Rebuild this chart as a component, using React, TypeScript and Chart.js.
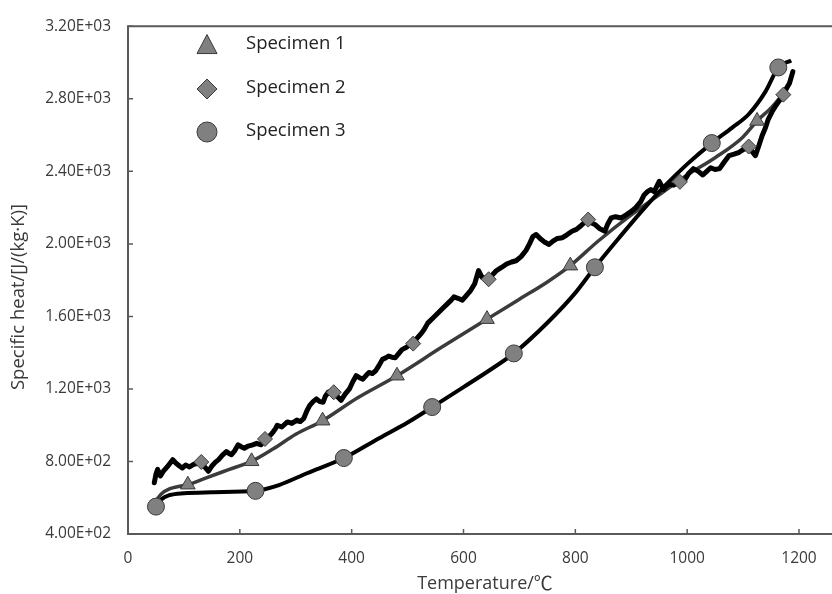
import React, { useEffect, useRef } from 'react';
import { Chart, registerables } from 'chart.js';

Chart.register(...registerables);

// ---------- data ----------
const seriesNames = ['Specimen 1', 'Specimen 2', 'Specimen 3'];

const xTicks = [0, 200, 400, 600, 800, 1000, 1200];
const xTickLabels = ['0', '200', '400', '600', '800', '1000', '1200'];
const yTicks = [400, 800, 1200, 1600, 2000, 2400, 2800, 3200];
const yTickLabels = ['4.00E+02', '8.00E+02', '1.20E+03', '1.60E+03', '2.00E+03', '2.40E+03', '2.80E+03', '3.20E+03'];

// Specimen 1 (smooth curve, triangles)
const s1T = [50, 60, 75, 90, 107, 140, 180, 221, 260, 300, 348, 410, 481, 560, 642, 700, 750, 791, 841, 900, 950, 1000, 1050, 1100, 1125, 1150, 1180];
const s1V = [583, 622, 650, 662, 672, 710, 755, 801, 870, 950, 1025, 1150, 1273, 1428, 1585, 1695, 1790, 1880, 2016, 2160, 2270, 2380, 2475, 2590, 2678, 2750, 2860];
const s1MarkT = [107, 221, 348, 481, 642, 791, 1125];
const s1MarkV = [672, 801, 1025, 1273, 1585, 1880, 2678];

// Specimen 2 (noisy curve, diamonds)
const s2T = [47, 50, 53, 58, 63, 70, 80, 86, 92, 97, 103, 110, 118, 125, 131, 137, 144, 150, 156, 162, 169, 176, 180, 185, 191, 197, 203, 208, 215, 223, 230, 238, 244, 250, 255, 260, 264, 267, 275, 285, 293, 302, 308, 314, 320, 325, 331, 337, 343, 349, 353, 358, 367, 374, 381, 388, 396, 402, 408, 414, 420, 426, 431, 437, 443, 449, 455, 460, 466, 472, 478, 484, 490, 498, 505, 510, 517, 525, 530, 536, 545, 554, 563, 572, 578, 583, 590, 598, 605, 613, 620, 627, 633, 639, 645, 652, 659, 668, 677, 686, 694, 703, 712, 718, 724, 730, 737, 745, 753, 760, 768, 777, 785, 794, 802, 810, 817, 823, 829, 835, 843, 853, 858, 864, 872, 882, 891, 900, 908, 917, 923, 929, 935, 941, 950, 958, 966, 976, 987, 995, 1003, 1011, 1020, 1028, 1034, 1042, 1050, 1058, 1066, 1075, 1084, 1093, 1100, 1110, 1116, 1122, 1128, 1134, 1140, 1145, 1152, 1158, 1165, 1172, 1178, 1183, 1189];
const s2V = [683, 730, 756, 720, 745, 770, 810, 790, 775, 764, 780, 770, 785, 790, 801, 770, 746, 775, 795, 810, 835, 855, 845, 837, 860, 892, 880, 873, 885, 892, 900, 892, 928, 935, 946, 965, 982, 1000, 990, 1018, 1010, 1028, 1020, 1036, 1080, 1109, 1130, 1145, 1130, 1127, 1160, 1182, 1190, 1160, 1137, 1170, 1200, 1240, 1273, 1262, 1254, 1275, 1291, 1285, 1300, 1330, 1363, 1370, 1381, 1375, 1372, 1395, 1417, 1430, 1445, 1454, 1480, 1508, 1530, 1563, 1590, 1617, 1645, 1672, 1690, 1708, 1700, 1690, 1715, 1744, 1780, 1853, 1817, 1810, 1808, 1830, 1853, 1870, 1889, 1900, 1907, 1930, 1965, 2000, 2040, 2052, 2030, 2010, 1997, 2015, 2030, 2034, 2050, 2070, 2080, 2100, 2120, 2134, 2115, 2107, 2085, 2070, 2110, 2143, 2150, 2143, 2160, 2179, 2200, 2233, 2270, 2288, 2300, 2288, 2345, 2300, 2330, 2324, 2342, 2350, 2390, 2415, 2400, 2380, 2397, 2420, 2410, 2415, 2450, 2487, 2495, 2505, 2520, 2533, 2510, 2487, 2540, 2596, 2640, 2687, 2730, 2760, 2790, 2823, 2860, 2886, 2950];
const s2MarkT = [131, 245, 368, 510, 645, 823, 987, 1110, 1172];
const s2MarkV = [797, 924, 1182, 1450, 1805, 2134, 2342, 2537, 2823];

// Specimen 3 (smooth curve, circles)
const s3T = [50, 60, 75, 100, 150, 228, 270, 320, 386, 450, 500, 544, 600, 650, 690, 750, 800, 835, 880, 920, 960, 1000, 1044, 1080, 1110, 1140, 1163, 1186];
const s3V = [551, 592, 615, 625, 630, 638, 670, 735, 819, 930, 1015, 1100, 1210, 1310, 1396, 1565, 1730, 1871, 2040, 2185, 2320, 2440, 2556, 2640, 2715, 2840, 2973, 3012];
const s3MarkT = [50, 228, 386, 544, 690, 835, 1044, 1163];
const s3MarkV = [551, 638, 819, 1100, 1396, 1871, 2556, 2973];

// ---------- helpers ----------
const pts = (t: number[], v: number[]) => t.map((x, i) => ({ x, y: v[i] }));

const MARK_FILL = '#808080';
const MARK_BORDER = '#3a3a3a';
const AXIS_COLOR = '#5a5a5a';
const TEXT_COLOR = '#3a3a3a';
const SANS = '"Open Sans", "Noto Sans", sans-serif';

const framePlugin = {
  id: 'frame',
  beforeDatasetsDraw(chart: any) {
    const { ctx, chartArea, scales } = chart;
    const { left, top, bottom } = chartArea;
    const right = chart.width;
    ctx.save();
    ctx.strokeStyle = AXIS_COLOR;
    ctx.lineWidth = 2;
    ctx.beginPath();
    ctx.moveTo(left, top);
    ctx.lineTo(right, top);
    ctx.moveTo(left, top - 1);
    ctx.lineTo(left, bottom + 1);
    ctx.moveTo(left - 1, bottom);
    ctx.lineTo(right, bottom);
    ctx.stroke();
    ctx.lineWidth = 1.5;
    ctx.beginPath();
    yTicks.forEach((v) => {
      const y = scales.y.getPixelForValue(v);
      ctx.moveTo(left, y);
      ctx.lineTo(left + 5, y);
    });
    xTicks.forEach((v) => {
      if (v === 0) return;
      const x = scales.x.getPixelForValue(v);
      ctx.moveTo(x, bottom);
      ctx.lineTo(x, bottom - 5);
    });
    ctx.stroke();
    ctx.restore();
  },
};

function drawMarker(ctx: CanvasRenderingContext2D, kind: number, x: number, y: number, r: number) {
  ctx.beginPath();
  if (kind === 0) {
    const h = r * 1.9;
    ctx.moveTo(x, y - h * 0.55);
    ctx.lineTo(x + r, y + h * 0.45);
    ctx.lineTo(x - r, y + h * 0.45);
    ctx.closePath();
  } else if (kind === 1) {
    ctx.moveTo(x, y - r);
    ctx.lineTo(x + r, y);
    ctx.lineTo(x, y + r);
    ctx.lineTo(x - r, y);
    ctx.closePath();
  } else {
    ctx.arc(x, y, r, 0, Math.PI * 2);
  }
  ctx.fillStyle = MARK_FILL;
  ctx.fill();
  ctx.strokeStyle = MARK_BORDER;
  ctx.lineWidth = 1;
  ctx.stroke();
}

const annotationPlugin = {
  id: 'annot',
  afterDraw(chart: any) {
    const { ctx } = chart;
    ctx.save();
    // legend
    const legendY = [45, 89, 132];
    ctx.font = `18.5px ${SANS}`;
    ctx.textBaseline = 'middle';
    ctx.textAlign = 'left';
    seriesNames.forEach((name, i) => {
      drawMarker(ctx, i, 207, legendY[i], 10);
      ctx.fillStyle = '#222';
      ctx.fillText(name, 246, legendY[i] - 1);
    });
    // x title
    ctx.fillStyle = TEXT_COLOR;
    ctx.textBaseline = 'alphabetic';
    ctx.font = `18px ${SANS}`;
    const part1 = 'Temperature/';
    const w1 = ctx.measureText(part1).width;
    ctx.font = '19px "Noto Sans CJK SC", "DejaVu Serif", serif';
    const w2 = ctx.measureText('℃').width;
    const startX = 485 - (w1 + w2) / 2;
    ctx.font = `18px ${SANS}`;
    ctx.fillText(part1, startX, 589);
    ctx.font = '19px "Noto Sans CJK SC", "DejaVu Serif", serif';
    ctx.fillText('℃', startX + w1, 590);
    // y title
    ctx.save();
    ctx.translate(24, 297);
    ctx.rotate(-Math.PI / 2);
    ctx.font = `18.5px ${SANS}`;
    ctx.textAlign = 'center';
    ctx.textBaseline = 'alphabetic';
    ctx.fillText('Specific heat/[J/(kg·K)]', 0, 0);
    ctx.restore();
    ctx.restore();
  },
};

export default function App() {
  const ref = useRef<HTMLCanvasElement | null>(null);

  useEffect(() => {
    if (!ref.current) return;
    const chart = new Chart(ref.current, {
      type: 'line',
      data: {
        datasets: [
          {
            label: seriesNames[0] + ' markers',
            data: pts(s1MarkT, s1MarkV),
            showLine: false,
            pointStyle: 'triangle',
            pointRadius: 8.5,
            backgroundColor: MARK_FILL,
            borderColor: MARK_BORDER,
            borderWidth: 1,
            order: 0,
          },
          {
            label: seriesNames[1] + ' markers',
            data: pts(s2MarkT, s2MarkV),
            showLine: false,
            pointStyle: 'rectRot',
            pointRadius: 7.5,
            backgroundColor: MARK_FILL,
            borderColor: MARK_BORDER,
            borderWidth: 1,
            order: 0,
          },
          {
            label: seriesNames[2] + ' markers',
            data: pts(s3MarkT, s3MarkV),
            showLine: false,
            pointStyle: 'circle',
            pointRadius: 8.5,
            backgroundColor: MARK_FILL,
            borderColor: MARK_BORDER,
            borderWidth: 1,
            order: 0,
          },
          {
            label: seriesNames[0],
            data: pts(s1T, s1V),
            borderColor: '#3b3b3b',
            borderWidth: 3.5,
            pointRadius: 0,
            cubicInterpolationMode: 'monotone',
            order: 2,
          },
          {
            label: seriesNames[1],
            data: pts(s2T, s2V),
            borderColor: '#000000',
            borderWidth: 5,
            pointRadius: 0,
            tension: 0,
            borderJoinStyle: 'round',
            borderCapStyle: 'round',
            order: 1,
          },
          {
            label: seriesNames[2],
            data: pts(s3T, s3V),
            borderColor: '#000000',
            borderWidth: 4,
            pointRadius: 0,
            cubicInterpolationMode: 'monotone',
            order: 1,
          },
        ] as any,
      },
      options: {
        responsive: false,
        animation: false,
        devicePixelRatio: 1,
        layout: { padding: { top: 19, right: 0, left: 0, bottom: 0 } },
        plugins: {
          legend: { display: false },
          tooltip: { enabled: false },
        },
        scales: {
          x: {
            type: 'linear',
            min: 0,
            max: 1236,
            grid: { display: false, drawTicks: false },
            border: { display: false },
            afterBuildTicks: (scale: any) => {
              scale.ticks = xTicks.map((v) => ({ value: v }));
            },
            afterFit: (scale: any) => {
              scale.height = 60;
            },
            ticks: {
              padding: 15,
              maxRotation: 0,
              autoSkip: false,
              color: TEXT_COLOR,
              font: { family: SANS, size: 15.5 },
              callback: (v: any) => {
                const i = xTicks.indexOf(Number(v));
                return i >= 0 ? xTickLabels[i] : '';
              },
            },
          },
          y: {
            type: 'linear',
            min: 400,
            max: 3200,
            grid: { display: false, drawTicks: false },
            border: { display: false },
            afterBuildTicks: (scale: any) => {
              scale.ticks = yTicks.map((v) => ({ value: v }));
            },
            afterFit: (scale: any) => {
              scale.width = 128;
            },
            ticks: {
              padding: 17,
              autoSkip: false,
              color: TEXT_COLOR,
              font: { family: SANS, size: 15.5 },
              callback: (v: any) => {
                const i = yTicks.indexOf(Number(v));
                return i >= 0 ? yTickLabels[i] : '';
              },
            },
          },
        },
      } as any,
      plugins: [framePlugin, annotationPlugin],
    });
    return () => chart.destroy();
  }, []);

  return (
    <div style={{ position: 'fixed', left: 0, top: 0, width: 832, height: 594, background: '#fff' }}>
      <canvas ref={ref} width={832} height={594} style={{ display: 'block', width: 832, height: 594 }} />
    </div>
  );
}
